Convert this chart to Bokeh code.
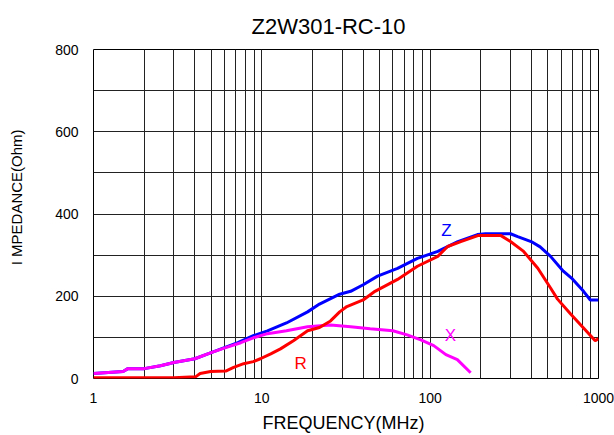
from bokeh.plotting import figure
from bokeh.models import FixedTicker, BasicTickFormatter, Label
from bokeh.embed import file_html
from bokeh.resources import INLINE

title_text = "Z2W301-RC-10"
x_label = "FREQUENCY(MHz)\u00a0"
y_label = "\u00a0\u00a0\u00a0\u00a0\u00a0\u00a0\u00a0\u00a0I MPEDANCE(Ohm)"

x_major = [1, 10, 100, 1000]
x_minor = [2, 3, 4, 5, 6, 7, 8, 9, 20, 30, 40, 50, 60, 70, 80, 90,
           200, 300, 400, 500, 600, 700, 800, 900]
y_major = [0, 200, 400, 600, 800]
y_minor = [100, 300, 500, 700]

z_freq = [1, 1.5, 1.6, 2, 2.5, 3, 4, 5, 6, 7.2, 8.9, 10.8, 14, 18.7, 22, 29, 33.7,
          40, 48.7, 64, 84, 111, 146, 191, 213, 300, 331, 398, 450, 519, 618, 700,
          815, 894, 1000]
z_vals = [12, 17, 24, 24, 31, 39, 48, 63, 75, 87, 104, 116, 135, 162, 181, 205, 212,
          228, 249, 268, 292, 309, 333, 350, 352, 352, 345, 333, 320, 297, 261, 242,
          212, 191, 191]

r_freq = [1, 2, 3, 4.04, 4.3, 4.96, 6.1, 6.8, 7.8, 8.9, 9.8, 11.3, 12.9, 15.4, 18.7,
          22, 25.6, 29, 32, 40, 47, 64, 84, 111, 127, 152, 194, 262, 300, 359, 436,
          519, 571, 683, 815, 956, 1000]
r_vals = [2, 2, 2, 4, 12, 17, 18, 27, 36, 41, 48, 60, 72, 92, 116,
          124, 140, 162, 175, 191, 212, 241, 273, 297, 321, 333, 348, 348, 333, 309, 268,
          220, 193, 157, 123, 92, 97]

x_freq = [1, 1.5, 1.6, 2, 2.5, 3, 4, 5, 6.1, 7.5, 8.9, 10.8, 14, 18.7, 25.6, 33.7,
          44, 60, 73, 88, 105, 124, 145, 174]
x_vals = [12, 17, 24, 24, 31, 39, 48, 63, 75, 87, 99, 109, 116, 126, 130, 126,
          121, 116, 106, 94, 80, 58, 46, 14]

p = figure(width=614, height=435, x_axis_type="log", x_range=(1, 1000), y_range=(0, 800),
           output_backend="svg", toolbar_location=None,
           min_border_left=93, min_border_right=16, min_border_top=47, min_border_bottom=57)

p.title.text = title_text
p.title.align = "left"
p.title.offset = 158
p.title.text_font = "Liberation Sans"
p.title.text_font_size = "22px"
p.title.text_font_style = "normal"
p.title.text_color = "black"
p.title.standoff = 22

p.background_fill_color = "white"
p.border_fill_color = "white"
p.outline_line_color = "black"
p.outline_line_width = 1

p.xaxis.ticker = FixedTicker(ticks=x_major, minor_ticks=x_minor)
p.yaxis.ticker = FixedTicker(ticks=y_major, minor_ticks=y_minor)
p.xaxis.formatter = BasicTickFormatter()

for ax in (p.xaxis, p.yaxis):
    ax.axis_line_color = None
    ax.major_tick_line_color = None
    ax.minor_tick_line_color = None
    ax.major_tick_out = 0
    ax.major_tick_in = 0
    ax.minor_tick_out = 0
    ax.minor_tick_in = 0
    ax.major_label_text_font = "Liberation Sans"
    ax.major_label_text_font_size = "14px"
    ax.major_label_text_color = "black"
    ax.axis_label_text_font = "Liberation Sans"
    ax.axis_label_text_font_style = "normal"
    ax.axis_label_text_color = "black"
p.yaxis.major_label_standoff = 15
p.xaxis.major_label_standoff = 14

p.xaxis.axis_label = x_label
p.xaxis.axis_label_text_font_size = "18px"
p.xaxis.axis_label_standoff = 7
p.yaxis.axis_label = y_label
p.yaxis.axis_label_text_font_size = "15px"
p.yaxis.axis_label_standoff = 27

for g in (p.xgrid, p.ygrid):
    g.grid_line_color = "#222222"
    g.grid_line_width = 1
    g.grid_line_alpha = 1
    g.minor_grid_line_color = "#222222"
    g.minor_grid_line_width = 1
    g.minor_grid_line_alpha = 1

p.line(z_freq, z_vals, line_color="#0000FF", line_width=3)
p.line(x_freq, x_vals, line_color="#FF00FF", line_width=3)
p.line(r_freq, r_vals, line_color="#FF0000", line_width=3)

p.add_layout(Label(x=125, y=360, text="Z", text_color="#0000FF", text_font="Liberation Sans",
                   text_font_size="17px", text_align="center", text_baseline="middle"))
p.add_layout(Label(x=132, y=104, text="X", text_color="#FF00FF", text_font="Liberation Sans",
                   text_font_size="17px", text_align="center", text_baseline="middle"))
p.add_layout(Label(x=17, y=36, text="R", text_color="#FF0000", text_font="Liberation Sans",
                   text_font_size="17px", text_align="center", text_baseline="middle"))

open("out.html", "w").write(file_html(p, INLINE))
